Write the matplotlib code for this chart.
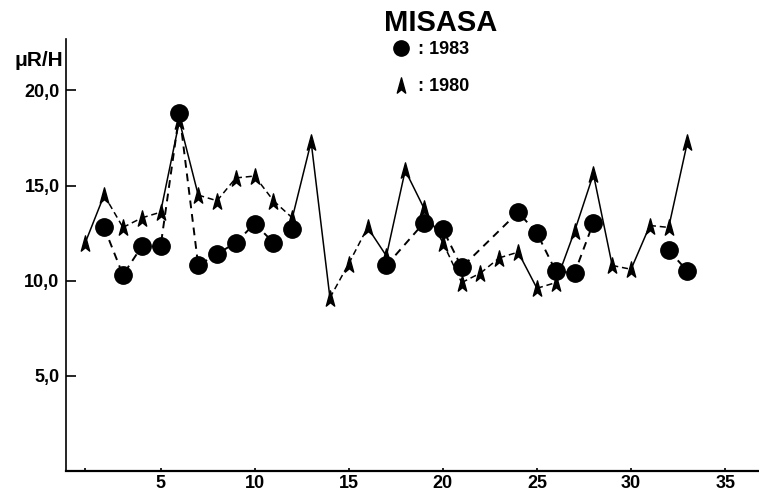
import matplotlib.pyplot as plt
import numpy as np
from matplotlib.path import Path
from matplotlib.lines import Line2D

plt.rcParams['font.family'] = ['Liberation Sans Narrow', 'Liberation Sans', 'DejaVu Sans']

# 1983 (circles), NaN marks a break in the dashed line
days_1983 = [2, 3, 4, 5, 6, 7, 8, 9, 10, 11, 12, 13,
             17, 19, 20, 21, 24, 25, 26, 27, 28, 29, 32, 33]
vals_1983 = [12.8, 10.3, 11.8, 11.8, 18.8, 10.8, 11.4, 12.0, 13.0, 12.0, 12.7, np.nan,
             10.8, 13.05, 12.7, 10.7, 13.6, 12.5, 10.5, 10.4, 13.05, np.nan, 11.6, 10.5]

# 1980 (arrow heads)
days_1980 = list(range(1, 34))
vals_1980 = [12.0, 14.5, 12.8, 13.3, 13.6, 18.4, 14.5, 14.2, 15.4, 15.5, 14.2,
             13.3, 17.3, 9.1, 10.9, 12.8, 11.3, 15.8, 13.8, 12.0, 9.9, 10.4,
             11.2, 11.5, 9.6, 9.9, 12.6, 15.6, 10.8, 10.6, 12.9, 12.8, 17.3]
# segments of the 1980 line (by starting day) that are drawn dashed
dashed_1980 = [2, 3, 4, 7, 8, 9, 10, 11, 14, 15, 20, 21, 22, 23, 25, 29, 31]

yticks = [5, 10, 15, 20]
ytick_labels = ['5,0', '10,0', '15,0', '20,0']
xticks = [5, 10, 15, 20, 25, 30, 35]

# arrow head marker
arrow = Path([(0, 1), (0.55, -1), (0, -0.55), (-0.55, -1), (0, 1)],
             [Path.MOVETO, Path.LINETO, Path.LINETO, Path.LINETO, Path.CLOSEPOLY])

fig = plt.figure(figsize=(7.59, 4.92), dpi=100)
ax = fig.add_axes([0.0876, 0.0427, 0.9124, 0.878])

for i in range(len(days_1980) - 1):
    ls = (0, (4, 2.5)) if days_1980[i] in dashed_1980 else '-'
    ax.plot(days_1980[i:i + 2], vals_1980[i:i + 2], color='k', lw=1.1, ls=ls, zorder=2)
ax.plot(days_1980, vals_1980, ls='none', marker=arrow, ms=11, color='k', zorder=3)

ax.plot(days_1983, vals_1983, color='k', lw=1.4, ls=(0, (4, 3)), zorder=4)
ax.plot(days_1983, vals_1983, ls='none', marker='o', ms=12.5, color='k', zorder=5)

ax.set_xlim(0, 36.8)
ax.set_ylim(0, 22.7)
ax.set_xticks(xticks)
ax.set_xticks([1], minor=True)
ax.set_yticks(yticks)
ax.set_yticklabels(ytick_labels)
ax.tick_params(axis='y', direction='in', length=7, width=1.2, pad=5,
               labelsize=13)
ax.tick_params(axis='x', which='both', direction='in', length=2.5, width=1.2, pad=3,
               labelsize=13)
for lab in ax.get_xticklabels() + ax.get_yticklabels():
    lab.set_fontweight('bold')

for s in ['top', 'right']:
    ax.spines[s].set_visible(False)
ax.spines['left'].set_linewidth(1.2)
ax.spines['bottom'].set_linewidth(1.6)

fig.text(441 / 759, 1 - 23 / 492, 'MISASA', ha='center', va='center',
         fontsize=21, fontweight='bold', family=['Liberation Sans', 'DejaVu Sans'])
fig.text(63 / 759, 1 - 61 / 492, 'μR/H', ha='right', va='center',
         fontsize=15, fontweight='bold', family=['Liberation Sans', 'DejaVu Sans'])

handles = [Line2D([], [], ls='none', marker='o', ms=11, color='k'),
           Line2D([], [], ls='none', marker=arrow, ms=11, color='k')]
fig.legend(handles, [': 1983', ': 1980'], loc='upper left',
           bbox_to_anchor=(393 / 759, 1 - 41 / 492), frameon=False,
           borderpad=0, borderaxespad=0, handlelength=0.9, handletextpad=0.5,
           labelspacing=1.1,
           prop={'weight': 'bold', 'size': 13, 'family': ['Liberation Sans', 'DejaVu Sans']})

fig.savefig('out.png', dpi=100)
